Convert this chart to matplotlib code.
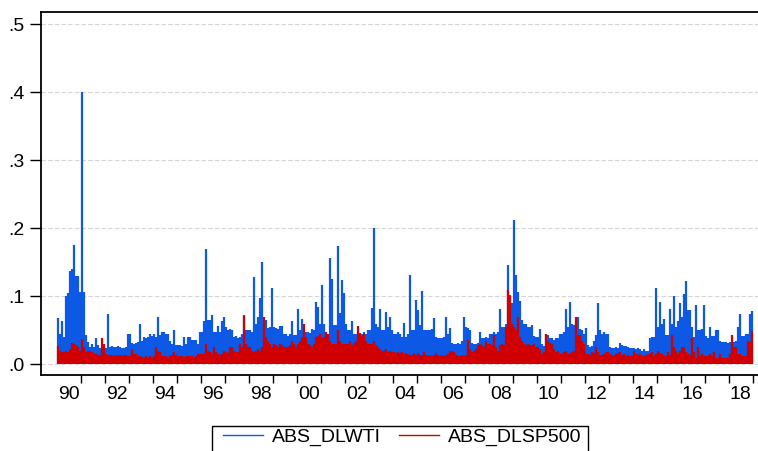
import numpy as np
import matplotlib.pyplot as plt
from matplotlib.lines import Line2D
from matplotlib.patches import Rectangle

plt.rcParams['font.family'] = ['Liberation Sans', 'DejaVu Sans']

# Largest absolute daily log return in each month (thousandths), Jan 1990 - Dec 2018
abs_dlwti = [
    68, 45, 64, 40, 100, 105, 137, 140, 175, 130, 130, 107,    # 1990
    400, 107, 43, 33, 26, 30, 26, 38, 28, 24, 26, 22,          # 1991
    24, 74, 26, 27, 25, 26, 27, 26, 24, 24, 25, 44,            # 1992
    44, 31, 30, 31, 33, 59, 35, 40, 38, 40, 45, 42,            # 1993
    45, 40, 70, 43, 48, 48, 45, 44, 35, 30, 50, 28,            # 1994
    28, 28, 27, 40, 30, 40, 40, 36, 36, 36, 30, 47,            # 1995
    47, 64, 170, 65, 65, 73, 48, 48, 56, 48, 64, 70,           # 1996
    55, 50, 52, 50, 40, 42, 38, 40, 45, 73, 50, 50,            # 1997
    50, 48, 128, 60, 70, 98, 150, 65, 65, 53, 55, 112,         # 1998
    55, 53, 52, 57, 57, 45, 45, 42, 45, 64, 43, 43,            # 1999
    81, 50, 66, 48, 47, 47, 46, 52, 50, 92, 85, 60,            # 2000
    117, 60, 45, 45, 157, 125, 58, 58, 174, 75, 124, 105,      # 2001
    60, 50, 50, 63, 45, 45, 44, 46, 45, 47, 45, 50,            # 2002
    50, 83, 200, 60, 55, 81, 50, 50, 77, 55, 70, 50,           # 2003
    45, 45, 47, 45, 40, 61, 40, 45, 131, 50, 50, 95,           # 2004
    80, 58, 108, 50, 50, 50, 50, 52, 68, 40, 38, 38,           # 2005
    38, 40, 70, 45, 53, 32, 30, 30, 32, 30, 35, 70,            # 2006
    55, 53, 50, 32, 30, 30, 32, 47, 38, 38, 40, 38,            # 2007
    45, 45, 47, 45, 48, 81, 55, 55, 60, 146, 102, 90,          # 2008
    212, 131, 107, 93, 65, 60, 60, 55, 55, 58, 42, 40,         # 2009
    40, 52, 30, 27, 45, 43, 38, 38, 36, 38, 38, 45,            # 2010
    45, 47, 82, 55, 91, 60, 58, 62, 70, 52, 50, 45,            # 2011
    54, 28, 26, 27, 35, 43, 90, 50, 45, 48, 45, 45,            # 2012
    26, 24, 24, 25, 24, 31, 28, 27, 27, 25, 24, 24,            # 2013
    24, 22, 24, 22, 20, 22, 20, 20, 38, 40, 40, 112,           # 2014
    55, 92, 60, 67, 43, 43, 82, 60, 100, 55, 63, 90,           # 2015
    70, 103, 123, 80, 80, 55, 40, 87, 50, 50, 52, 87,          # 2016
    42, 38, 55, 42, 42, 50, 50, 35, 33, 33, 33, 32,            # 2017
    33, 33, 33, 35, 55, 74, 42, 42, 45, 45, 74, 78,            # 2018
]

abs_dlsp500 = [
    27, 20, 18, 18, 20, 18, 22, 32, 30, 28, 25, 20,            # 1990
    37, 25, 18, 20, 20, 18, 15, 15, 14, 14, 38, 30,            # 1991
    15, 14, 14, 14, 12, 13, 14, 13, 12, 14, 13, 12,            # 1992
    12, 22, 15, 15, 12, 12, 11, 10, 12, 10, 12, 10,            # 1993
    12, 25, 20, 18, 12, 12, 12, 10, 12, 14, 18, 14,            # 1994
    12, 12, 12, 10, 12, 12, 12, 12, 10, 12, 15, 15,            # 1995
    15, 15, 30, 20, 18, 15, 25, 18, 15, 14, 15, 20,            # 1996
    18, 16, 25, 25, 20, 18, 18, 30, 25, 71, 30, 25,            # 1997
    25, 20, 18, 20, 22, 20, 25, 70, 40, 35, 30, 25,            # 1998
    30, 28, 25, 30, 28, 25, 25, 25, 28, 35, 30, 25,            # 1999
    30, 35, 40, 60, 40, 30, 28, 25, 30, 40, 42, 45,            # 2000
    38, 40, 48, 45, 35, 30, 30, 30, 50, 35, 30, 30,            # 2001
    30, 30, 35, 28, 32, 35, 57, 45, 42, 45, 35, 30,            # 2002
    30, 30, 35, 28, 25, 22, 20, 20, 22, 18, 20, 18,            # 2003
    18, 16, 18, 16, 18, 15, 16, 15, 14, 14, 16, 14,            # 2004
    16, 14, 14, 18, 14, 14, 13, 12, 14, 16, 14, 12,            # 2005
    14, 12, 14, 15, 20, 20, 18, 14, 12, 12, 14, 12,            # 2006
    14, 36, 22, 18, 20, 22, 28, 30, 28, 25, 35, 30,            # 2007
    30, 28, 43, 25, 20, 28, 30, 28, 55, 110, 100, 60,          # 2008
    55, 50, 70, 40, 35, 30, 28, 30, 28, 28, 30, 25,            # 2009
    25, 22, 15, 18, 45, 35, 32, 30, 22, 18, 20, 15,            # 2010
    15, 18, 20, 15, 15, 18, 20, 70, 43, 43, 35, 30,            # 2011
    15, 15, 14, 18, 16, 25, 18, 14, 13, 15, 18, 18,            # 2012
    15, 14, 12, 15, 16, 18, 14, 15, 12, 14, 12, 12,            # 2013
    20, 15, 14, 15, 12, 12, 14, 15, 15, 18, 12, 15,            # 2014
    20, 16, 15, 12, 12, 18, 14, 43, 25, 20, 15, 20,            # 2015
    25, 25, 18, 15, 14, 38, 18, 10, 25, 12, 15, 12,            # 2016
    12, 12, 15, 12, 18, 10, 10, 15, 10, 10, 10, 10,            # 2017
    15, 43, 25, 25, 15, 15, 12, 12, 12, 35, 33, 49,            # 2018
]

first_year = 1990
year_labels = ['90', '92', '94', '96', '98', '00', '02', '04', '06', '08',
               '10', '12', '14', '16', '18']

BLUE = '#0D58E4'
RED = '#D10000'

wti = np.array(abs_dlwti) / 1000.0
sp = np.array(abs_dlsp500) / 1000.0
t = first_year + (np.arange(len(wti)) + 0.5) / 12.0

W, H = 758, 451
fig = plt.figure(figsize=(W / 100, H / 100), dpi=100)
ax = fig.add_axes([41 / W, 1 - 375 / H, (W - 41) / W, (375 - 12) / H])

ax.vlines(t, 0, wti, color=BLUE, linewidth=1.6)
ax.vlines(t, 0, sp, color=RED, linewidth=1.6)

# axis limits: 24 px per year, 1990 starts 15.7 px right of the frame
ax.set_xlim(first_year - 15.7 / 24, first_year + (W - 56.7) / 24)
ax.set_ylim(-(375 - 364.3) / 680, (364.3 - 12) / 680)

yt = np.arange(0, 0.51, 0.1)
ax.set_yticks(yt)
ax.set_yticklabels(['.0', '.1', '.2', '.3', '.4', '.5'], fontsize=14)
for y in yt:
    ax.axhline(y, color='#D6D6D6', linewidth=0.8, dashes=(4, 2), zorder=0)

ax.set_xticks(np.arange(first_year + 1, 2020))
ax.set_xticklabels([])
ax.set_xticks(first_year + 0.5 + 2 * np.arange(len(year_labels)), minor=True)
ax.set_xticklabels(year_labels, minor=True, fontsize=14)
ax.tick_params(axis='x', which='major', direction='out', length=6, width=1)
ax.tick_params(axis='x', which='minor', length=0, pad=8)
ax.tick_params(axis='y', direction='out', length=8, width=1, pad=4)

ax.spines['right'].set_visible(False)
for s in ['left', 'bottom', 'top']:
    ax.spines[s].set_linewidth(1.3)

handles = [Line2D([], [], color=BLUE, lw=1),
           Line2D([], [], color=RED, lw=1)]
fig.legend(handles, ['ABS_DLWTI', 'ABS_DLSP500'], ncol=2, frameon=False,
           loc='center left', bbox_to_anchor=(222.7 / W, 1 - 437 / H),
           borderpad=0, borderaxespad=0, fontsize=14, handlelength=2.06,
           handletextpad=0.46, columnspacing=0.96)
fig.patches.append(Rectangle((211.7 / W, -0.05), (588 - 211.7) / W,
                             0.05 + 1 - 426 / H, transform=fig.transFigure,
                             fill=False, edgecolor='black', linewidth=1))

fig.savefig('out.png', dpi=100)
